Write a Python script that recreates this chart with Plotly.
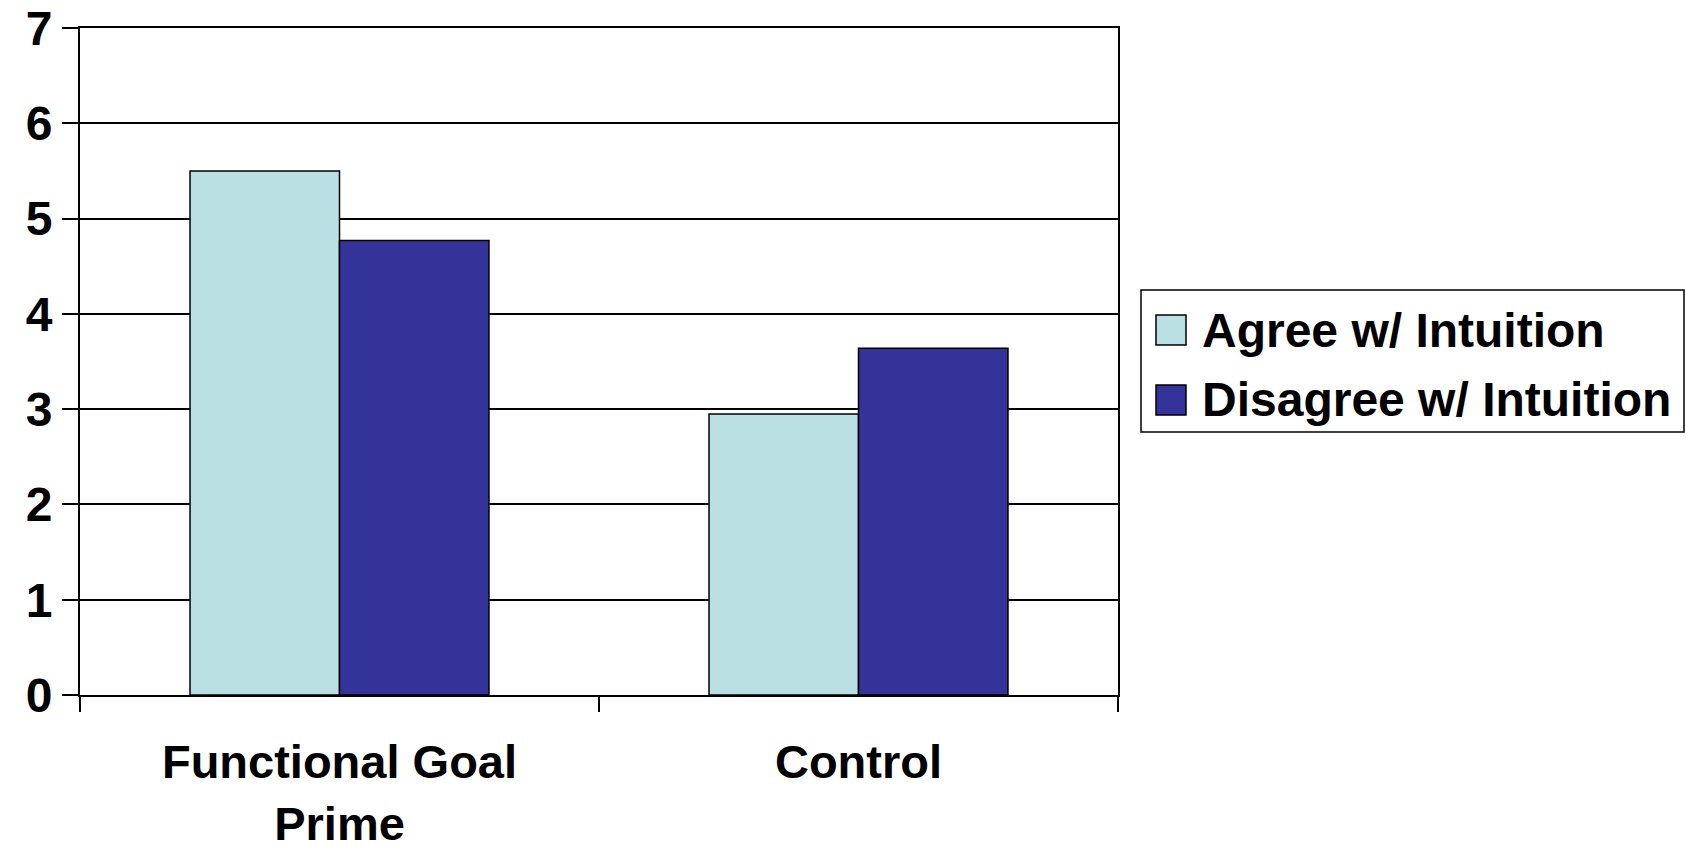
import plotly.graph_objects as go

# Mean ratings by condition
categories = ["Functional Goal<br>Prime", "Control"]
series_names = ["Agree w/ Intuition", "Disagree w/ Intuition"]
agree_vals = [5.50, 2.95]
disagree_vals = [4.77, 3.64]
y_ticks = [0, 1, 2, 3, 4, 5, 6, 7]

colors = ["#BAE0E3", "#333399"]
font_family = "Liberation Sans, Arial, Helvetica, sans-serif"

W, H = 1686, 851
L, R, T, B = 80, 568, 28, 156
plot_w = W - L - R
plot_h = H - T - B


def px_x(x):
    return (x - L) / plot_w


def px_y(y):
    return (H - B - y) / plot_h


fig = go.Figure()
for name, vals, col in zip(series_names, [agree_vals, disagree_vals], colors):
    fig.add_trace(go.Bar(
        x=categories, y=vals, name=name, marker_color=col,
        marker_line=dict(color="black", width=1.5),
        showlegend=False,
    ))

# Legend drawn in paper space so the swatches can be large
shapes = [dict(type="rect", xref="paper", yref="paper",
               x0=px_x(1141), x1=px_x(1684), y0=px_y(432), y1=px_y(290),
               line=dict(color="black", width=1.5), fillcolor="white")]
annotations = []
row_centers = [330, 400]
for name, col, cy in zip(series_names, colors, row_centers):
    shapes.append(dict(type="rect", xref="paper", yref="paper",
                       x0=px_x(1156), x1=px_x(1186),
                       y0=px_y(cy + 15), y1=px_y(cy - 15),
                       line=dict(color="black", width=1.5), fillcolor=col))
    annotations.append(dict(xref="paper", yref="paper", x=px_x(1200), y=px_y(cy),
                            text=name, showarrow=False, xanchor="left",
                            yanchor="middle",
                            font=dict(size=48, family=font_family, weight="bold",
                                      color="black")))

fig.update_layout(
    width=W, height=H,
    paper_bgcolor="white", plot_bgcolor="white",
    barmode="group", bargap=0.424, bargroupgap=0,
    margin=dict(l=L, r=R, t=T, b=B),
    font=dict(family=font_family, size=48, color="black", weight="bold"),
    showlegend=False,
    shapes=shapes, annotations=annotations,
    xaxis=dict(
        showline=True, linecolor="black", linewidth=2, mirror=True,
        ticks="outside", tickson="boundaries", ticklen=15, tickwidth=1.5,
        tickcolor="black", ticklabelstandoff=25, automargin=False,
        tickfont=dict(size=47, family=font_family, weight="bold"),
    ),
    yaxis=dict(
        range=[0, 7], tickvals=y_ticks, showgrid=True, gridcolor="black",
        gridwidth=1.5, showline=True, linecolor="black", linewidth=2,
        mirror=True, ticks="outside", ticklen=16, tickwidth=1.5,
        tickcolor="black", zeroline=False, automargin=False,
        tickfont=dict(size=48, family=font_family, weight="bold"),
    ),
)

fig.write_html("out.html")
